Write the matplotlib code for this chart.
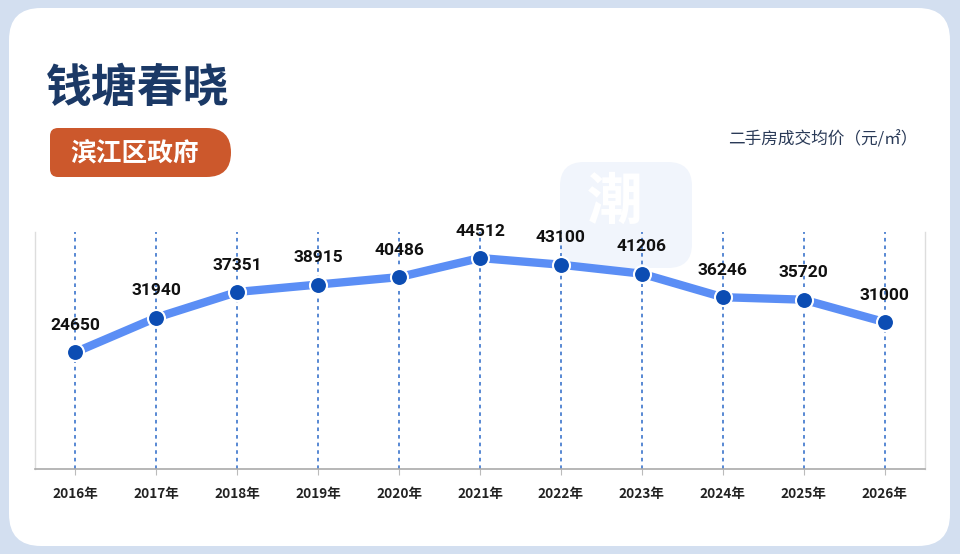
import matplotlib
matplotlib.use("Agg")
import matplotlib.pyplot as plt
from matplotlib.patches import FancyBboxPatch
import numpy as np

years = ["2016年", "2017年", "2018年", "2019年", "2020年", "2021年",
         "2022年", "2023年", "2024年", "2025年", "2026年"]
prices = [24650, 31940, 37351, 38915, 40486, 44512, 43100, 41206, 36246, 35720, 31000]
title = "钱塘春晓"
badge = "滨江区政府"
unit_label = "二手房成交均价（元/㎡）"

plt.rcParams['font.family'] = ['Noto Sans CJK SC', 'DejaVu Sans']

W, H = 960, 554
fig = plt.figure(figsize=(W / 100, H / 100), dpi=100)
fig.patch.set_facecolor('#d3dff0')

# background decoration axes in pixel coordinates
bg = fig.add_axes([0, 0, 1, 1])
bg.set_xlim(0, W)
bg.set_ylim(H, 0)
bg.axis('off')
bg.set_zorder(0)

def rbox(x0, y0, x1, y1, r, color, z=1):
    p = FancyBboxPatch((x0 + r, y0 + r), (x1 - x0) - 2 * r, (y1 - y0) - 2 * r,
                       boxstyle=f"round,pad={r},rounding_size={r}",
                       facecolor=color, edgecolor='none', zorder=z)
    bg.add_patch(p)

# white card
rbox(9, 8, 950, 546, 32, 'white', 1)
# faint watermark square
rbox(560, 162, 692, 268, 24, '#f1f5fc', 1.5)
bg.text(615, 203, "潮", fontsize=40, fontweight='bold', color='white',
        ha='center', va='center', zorder=1.6)

# title
bg.text(46, 89, title, fontsize=33, fontweight='bold', color='#1b3966',
        ha='left', va='center', zorder=3)

# badge (pill with small-radius left corners)
rbox(50, 128, 180, 177, 8, '#cc582c', 2)
rbox(120, 128, 231, 177, 24.5, '#cc582c', 2)
bg.text(135, 153, badge, fontsize=18.5, fontweight='bold', color='white',
        ha='center', va='center', zorder=3)

# unit label
bg.text(917, 140, unit_label, fontsize=12, fontweight='medium', color='#2a3a57',
        ha='right', va='center', zorder=3)

ax = fig.add_axes([35 / W, 1 - 469 / H, 890 / W, 237 / H])
ax.set_zorder(2)
ax.set_facecolor('none')
x = np.arange(len(years))
for xi in x:
    ax.axvline(xi, color='#4a7fd0', linestyle=(0, (2, 2.2)), linewidth=1.3, zorder=1)
ax.plot(x, prices, color='#5b8ef5', linewidth=6, solid_capstyle='round', zorder=2)
ax.scatter(x, prices, s=150, color='#0c4db3', edgecolor='white', linewidth=1.5, zorder=3)
for xi, v in zip(x, prices):
    ax.annotate(f"{v}", (xi, v), xytext=(0, 14), textcoords='offset points',
                ha='center', va='bottom', fontsize=12.5, fontweight='bold',
                color='#111111', family=['Roboto', 'DejaVu Sans'])

ax.set_xlim(-0.5, 10.5)
ax.set_ylim(0, 50000)
ax.set_yticks([])
ax.set_xticks(x)
ax.set_xticklabels(years, fontsize=9.8, fontweight='bold', color='#222222')
ax.tick_params(axis='x', length=4, color='#bbbbbb', pad=9)
ax.spines['top'].set_visible(False)
for s in ['left', 'right']:
    ax.spines[s].set_color('#dddddd')
    ax.spines[s].set_linewidth(1)
ax.spines['bottom'].set_color('#aaaaaa')
ax.spines['bottom'].set_linewidth(1.2)

fig.savefig("out.png", dpi=100, facecolor=fig.get_facecolor())
